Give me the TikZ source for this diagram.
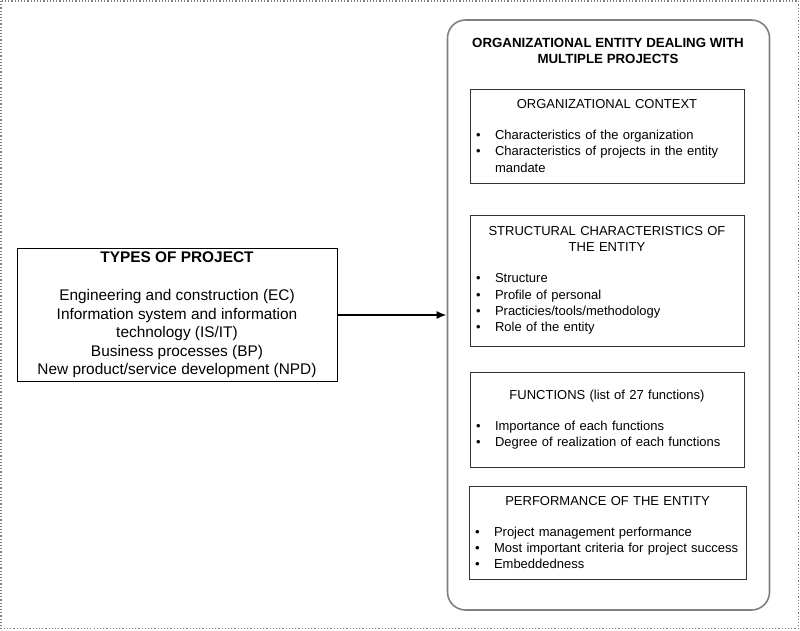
\documentclass[tikz,border=0pt]{standalone}
\usepackage{fontspec}
\setmainfont{Liberation Sans}
\usetikzlibrary{calc, arrows.meta, positioning}

\newcommand{\panelhead}[1]{{\centering #1\par}\vspace{14.5pt}}
\newcommand{\blt}{\par\noindent\hangindent=22pt\hangafter=1\makebox[22pt][l]{\hspace{3pt}\textbullet}}

\begin{document}
\begin{tikzpicture}[x=1pt, y=-1pt,
   panel/.style={draw=black!80, line width=1pt, minimum width=274pt, text width=268pt,
      inner xsep=3pt, align=left, font=\fontsize{13}{16.3}\selectfont},
   frame/.style={draw=gray, line width=1.6pt, rounded corners=18pt}]
   \useasboundingbox (0,0) rectangle (800,630);
   \draw[gray, dotted, line width=1.2pt] (1,1) rectangle (798.5,628.5);

   \node[frame, minimum width=322pt, minimum height=590pt] (entity) at (608.5,315) {};
   \node[align=center, font=\bfseries\fontsize{13.3}{16}\selectfont] (entitytitle) at (608,51)
      {ORGANIZATIONAL ENTITY DEALING WITH\\MULTIPLE PROJECTS};

   \node[panel, minimum height=94pt] (context) at (607,136)
      {\panelhead{ORGANIZATIONAL CONTEXT}
       \blt Characteristics of the organization
       \blt Characteristics of projects in the entity\hfil\break mandate\par};
   \node[panel, minimum height=131pt] (structure) at (607,280.5)
      {\panelhead{STRUCTURAL CHARACTERISTICS OF\\THE ENTITY}
       \blt Structure
       \blt Profile of personal
       \blt Practicies/tools/methodology
       \blt Role of the entity\par};
   \node[panel, minimum height=95pt] (functions) at (607,419.5)
      {\panelhead{FUNCTIONS (list of 27 functions)}
       \blt Importance of each functions
       \blt Degree of realization of each functions\par};
   \node[panel, minimum width=277pt, text width=271pt, minimum height=93pt] (performance) at (607.5,532.5)
      {\panelhead{PERFORMANCE OF THE ENTITY}
       \blt Project management performance
       \blt Most important criteria for project success
       \blt Embeddedness\par};

   \node[draw, line width=1pt, minimum width=320pt, minimum height=128pt, align=center,
      font=\fontsize{15.4}{18.5}\selectfont] (types) at (177,315)
      {\textbf{TYPES OF PROJECT}\\[19.5pt]
       Engineering and construction (EC)\\
       Information system and information\\
       technology (IS/IT)\\
       Business processes (BP)\\
       New product/service development (NPD)};

   \draw[-{Latex[length=10pt, width=8pt]}, line width=2.8pt] (types.east) -- (types.east -| entity.west);
\end{tikzpicture}
\end{document}
